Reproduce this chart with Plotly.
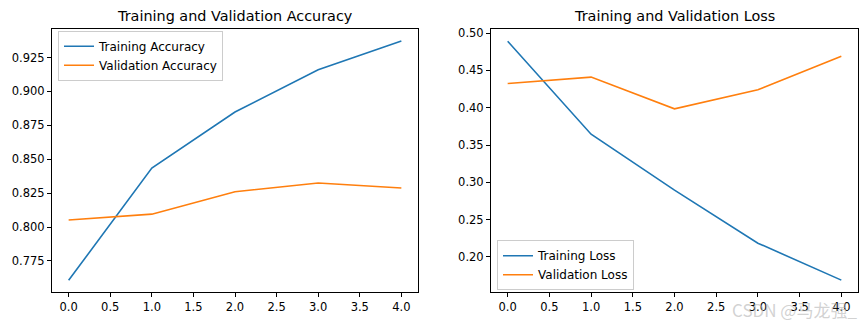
import plotly.graph_objects as go

epochs = [0, 1, 2, 3, 4]
train_acc = [0.7607, 0.8435, 0.8848, 0.9160, 0.9372]
val_acc = [0.8052, 0.8095, 0.8260, 0.8325, 0.8288]
train_loss = [0.4890, 0.3645, 0.2895, 0.2185, 0.1690]
val_loss = [0.4325, 0.4410, 0.3985, 0.4240, 0.4690]

acc_ticks = [0.775, 0.800, 0.825, 0.850, 0.875, 0.900, 0.925]
loss_ticks = [0.20, 0.25, 0.30, 0.35, 0.40, 0.45, 0.50]
x_ticks = [0.0, 0.5, 1.0, 1.5, 2.0, 2.5, 3.0, 3.5, 4.0]

BLUE = "#1f77b4"
ORANGE = "#ff7f0e"
FONT = "DejaVu Sans"

fig = go.Figure()
fig.add_trace(go.Scatter(x=epochs, y=train_acc, mode="lines", name="Training Accuracy",
                         line=dict(color=BLUE, width=1.6), xaxis="x", yaxis="y", legend="legend"))
fig.add_trace(go.Scatter(x=epochs, y=val_acc, mode="lines", name="Validation Accuracy",
                         line=dict(color=ORANGE, width=1.6), xaxis="x", yaxis="y", legend="legend"))
fig.add_trace(go.Scatter(x=epochs, y=train_loss, mode="lines", name="Training Loss",
                         line=dict(color=BLUE, width=1.6), xaxis="x2", yaxis="y2", legend="legend2"))
fig.add_trace(go.Scatter(x=epochs, y=val_loss, mode="lines", name="Validation Loss",
                         line=dict(color=ORANGE, width=1.6), xaxis="x2", yaxis="y2", legend="legend2"))

W, H = 865, 322
ax_common = dict(showline=True, linecolor="black", linewidth=1, mirror=True,
                 ticks="outside", ticklen=4, tickwidth=1, tickcolor="black",
                 showgrid=False, zeroline=False,
                 tickfont=dict(family=FONT, size=11.5, color="black"))

y_bot = (H - 292) / H
y_top = (H - 26) / H

fig.update_layout(
    width=W, height=H,
    margin=dict(l=0, r=0, t=0, b=0),
    paper_bgcolor="white", plot_bgcolor="white",
    font=dict(family=FONT, color="black"),
    xaxis=dict(domain=[52 / W, 418 / W], range=[-0.2, 4.2], tickvals=x_ticks,
               ticktext=[f"{v:.1f}" for v in x_ticks], anchor="y", **ax_common),
    yaxis=dict(domain=[y_bot, y_top], range=[0.7519, 0.9462], tickvals=acc_ticks,
               ticktext=[f"{v:.3f}" for v in acc_ticks], anchor="x", **ax_common),
    xaxis2=dict(domain=[491 / W, 858 / W], range=[-0.2, 4.2], tickvals=x_ticks,
                ticktext=[f"{v:.1f}" for v in x_ticks], anchor="y2", **ax_common),
    yaxis2=dict(domain=[y_bot, y_top], range=[0.1527, 0.5058], tickvals=loss_ticks,
                ticktext=[f"{v:.2f}" for v in loss_ticks], anchor="x2", **ax_common),
    legend=dict(x=58 / W, y=(H - 28) / H, xanchor="left", yanchor="top",
                bgcolor="rgba(255,255,255,0.8)", bordercolor="#cccccc", borderwidth=1,
                font=dict(family=FONT, size=12, color="black"),
                tracegroupgap=0, itemwidth=30),
    legend2=dict(x=497 / W, y=(H - 290) / H, xanchor="left", yanchor="bottom",
                 bgcolor="rgba(255,255,255,0.8)", bordercolor="#cccccc", borderwidth=1,
                 font=dict(family=FONT, size=12, color="black"),
                 tracegroupgap=0, itemwidth=30),
    showlegend=True,
    annotations=[
        dict(text="Training and Validation Accuracy", x=(52 + 418) / 2 / W, y=(H - 3) / H,
             xref="paper", yref="paper", xanchor="center", yanchor="top", showarrow=False,
             font=dict(family=FONT, size=14.4, color="black")),
        dict(text="Training and Validation Loss", x=(491 + 858) / 2 / W, y=(H - 3) / H,
             xref="paper", yref="paper", xanchor="center", yanchor="top", showarrow=False,
             font=dict(family=FONT, size=14.4, color="black")),
        dict(text="CSDN @马龙强_", x=859 / W, y=(H - 309) / H,
             xref="paper", yref="paper", xanchor="right", yanchor="middle", showarrow=False,
             font=dict(family="Noto Sans CJK SC", size=17, color="rgba(180,180,180,0.6)")),
    ],
)

fig.write_html("out.html")
